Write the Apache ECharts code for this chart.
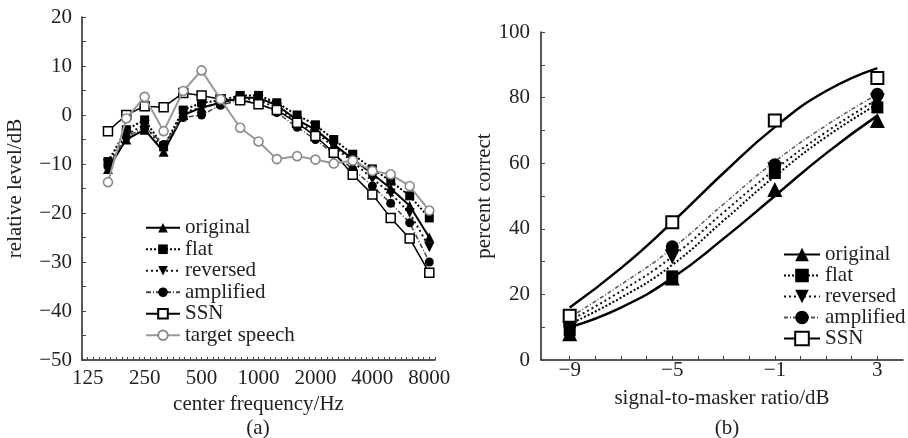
<!DOCTYPE html>
<html><head><meta charset="utf-8">
<script src="https://cdn.jsdelivr.net/npm/echarts@6/dist/echarts.min.js"></script>
<style>html,body{margin:0;padding:0;background:#fff}#c{width:908px;height:438px}</style>
</head><body><div id="c"></div>
<script>
// ---- Panel (a): relative level vs 1/3-octave centre frequency ----
const freqs = [160,200,250,315,400,500,630,800,1000,1250,1600,2000,2500,3150,4000,5000,6300,8000];
const freqTickLabels = [125,250,500,1000,2000,4000,8000];
const levelOriginal  = [-11,-5,-3,-7.5,0,1.5,2.5,3.5,3.5,2,-1,-3,-6,-9,-12,-15,-18.5,-25];
const levelFlat      = [-9.5,-3,-1,-6.5,1,2.5,3,4,4,2.5,0,-2,-5,-8,-11,-13.5,-16.5,-21];
const levelReversed  = [-10,-4,-2,-7,0.5,1.5,2.5,3.5,3,1.5,-1.5,-3.5,-6.5,-9.5,-13,-16,-20,-27];
const levelAmplified = [-10.5,-4.5,-2.5,-6,-0.5,0,2,3,2.5,0.5,-2.5,-5,-8,-11,-14.5,-18,-22,-30];
const levelSSN       = [-3.3,0,1.8,1.6,4.5,4,3.2,3,2.2,1,-1.6,-4.3,-7.7,-12.2,-16.2,-21,-25.2,-32.2];
const levelTarget    = [-13.7,-0.7,3.7,-3.3,4.9,9.1,3.2,-2.6,-5.4,-9,-8.4,-9.1,-9.9,-9.3,-11.4,-12.1,-14.5,-19.5];

// ---- Panel (b): percent correct vs signal-to-masker ratio ----
const smrPoints = [-9,-5,-1,3];
const pcOriginal  = [8,25,52,73];
const pcFlat      = [9,25.5,57,77];
const pcReversed  = [9.5,31.5,58,79];
const pcAmplified = [10.5,34.5,59.5,81];
const pcSSN       = [13.5,42,73,86];
// fitted curves
const smrCurve = [-9,-7,-5,-3,-1,1,3];
const fitOriginal  = [10,16,25,37,50,63,74.5];
const fitFlat      = [11,19,29,42.5,56,68,78];
const fitReversed  = [12,21,31.5,45,58,69.5,79.5];
const fitAmplified = [13,23,34,47.5,60.5,71.5,81];
const fitSSN       = [16,28,42,57,71,82,89];

const FONT = 'Liberation Serif';
const TXT = '#222';
const FS = 21;
const minus = s => String(s).replace('-', '\u2212');
const downTri = 'path://M0,0L10,0L5,9Z';

const toOct = f => Math.log2(f / 125);
function seriesA(name, vals, symbol, size, lineStyle, itemStyle, z) {
  return { type:'line', name, xAxisIndex:0, yAxisIndex:0, symbol, symbolSize:size,
    data: freqs.map((f,i)=>[toOct(f), vals[i]]), lineStyle, itemStyle, z, animation:false };
}
function curveB(name, vals, symbol, lineStyle, itemStyle) {
  return { type:'line', name, xAxisIndex:1, yAxisIndex:1, smooth:0.5, symbol, showSymbol:false,
    data: smrCurve.map((x,i)=>[x, vals[i]]), lineStyle, itemStyle, animation:false };
}
function ptsB(name, vals, symbol, size, itemStyle) {
  return { type:'scatter', name, xAxisIndex:1, yAxisIndex:1, symbol, symbolSize:size,
    data: smrPoints.map((x,i)=>[x, vals[i]]), itemStyle: Object.assign({opacity:1}, itemStyle), z:5, animation:false };
}

const black = {color:'#000'};
const openSq = {color:'#fff', borderColor:'#000', borderWidth:1.5};
const openCircGray = {color:'#fff', borderColor:'#8a8a8a', borderWidth:1.6};

const axisTxt = {fontFamily:FONT, fontSize:FS, color:TXT};
const axLine = {show:true, onZero:false, lineStyle:{color:'#222', width:1.5}};

const option = {
  backgroundColor:'#fff',
  grid: [
    {left:82, top:17, width:353, height:343},
    {left:541, top:32, width:362, height:328}
  ],
  xAxis: [
    { type:'value', gridIndex:0, min:-0.1, max:6.1, interval:0.1,
      axisLine:axLine,
      axisTick:{inside:true, length:3, lineStyle:{color:'#444', width:1}},
      splitLine:{show:false},
      axisLabel:Object.assign({interval:0, margin:8, formatter:v=>{
        const r=Math.round(v); return Math.abs(v-r)<1e-6 && r>=0 && r<=6 ? String(freqTickLabels[r]) : '';
      }}, axisTxt),
      name:'center frequency/Hz', nameLocation:'middle', nameGap:21,
      nameTextStyle:axisTxt },
    { type:'value', gridIndex:1, min:-10.12, max:4,
      axisLine:axLine,
      axisTick:{inside:true, length:4, lineStyle:{color:'#444', width:1}, customValues:[-9,-8,-7,-6,-5,-4,-3,-2,-1,0,1,2,3]},
      splitLine:{show:false},
      axisLabel:Object.assign({margin:0, customValues:[-9,-5,-1,3], formatter:v=>minus(v)}, axisTxt),
      name:'signal-to-masker ratio/dB', nameLocation:'middle', nameGap:28,
      nameTextStyle:axisTxt }
  ],
  yAxis: [
    { type:'value', gridIndex:0, min:-50, max:20, interval:5,
      axisLine:axLine,
      axisTick:{show:true, inside:true, length:4, lineStyle:{color:'#444'}},
      splitLine:{show:false},
      axisLabel:Object.assign({margin:10, formatter:v=> v%10===0 ? minus(v) : ''}, axisTxt),
      name:'relative level/dB', nameLocation:'middle', nameGap:56, nameRotate:90,
      nameTextStyle:axisTxt },
    { type:'value', gridIndex:1, min:0, max:100, interval:10,
      axisLine:axLine,
      axisTick:{show:true, inside:true, length:4, lineStyle:{color:'#444'}},
      splitLine:{show:false},
      axisLabel:Object.assign({margin:11, formatter:v=> v%20===0 ? String(v) : ''}, axisTxt),
      name:'percent correct', nameLocation:'middle', nameGap:46, nameRotate:90,
      nameTextStyle:axisTxt }
  ],
  legend: [
    { orient:'vertical', left:140, top:212, itemWidth:34, itemHeight:12, itemGap:0,
      textStyle:{fontFamily:FONT, fontSize:FS, color:TXT, lineHeight:21.5},
      data:['original','flat','reversed','amplified','SSN','target speech'] },
    { orient:'vertical', left:778, top:239, itemWidth:36, itemHeight:17, itemGap:0,
      textStyle:{fontFamily:FONT, fontSize:FS, color:TXT, lineHeight:21},
      data:['original ','flat ','reversed ','amplified ','SSN '] }
  ],
  graphic: [
    {type:'text', style:{text:'(a)', font:FS+'px '+FONT, fill:TXT, x:258, y:428, textAlign:'center', textVerticalAlign:'middle'}},
    {type:'text', style:{text:'(b)', font:FS+'px '+FONT, fill:TXT, x:727, y:428, textAlign:'center', textVerticalAlign:'middle'}}
  ],
  series: [
    seriesA('original', levelOriginal, 'triangle', 10, {color:'#000', width:2}, black, 3),
    seriesA('flat', levelFlat, 'rect', 9, {color:'#000', width:2, type:[2,2]}, black, 3),
    seriesA('reversed', levelReversed, downTri, 10, {color:'#111', width:2, type:[2,3]}, black, 3),
    seriesA('amplified', levelAmplified, 'circle', 9, {color:'#444', width:1.5, type:[5,2,1,2]}, black, 3),
    seriesA('SSN', levelSSN, 'rect', 9, {color:'#000', width:1.5}, openSq, 4),
    seriesA('target speech', levelTarget, 'circle', 9, {color:'#999', width:2}, openCircGray, 5),

    curveB('original ', fitOriginal, 'triangle', {color:'#000', width:2.5}, black),
    curveB('flat ', fitFlat, 'rect', {color:'#000', width:2, type:[2,2]}, black),
    curveB('reversed ', fitReversed, downTri, {color:'#111', width:2, type:[2,3]}, black),
    curveB('amplified ', fitAmplified, 'circle', {color:'#555', width:1.5, type:[4,2,1,2]}, black),
    curveB('SSN ', fitSSN, 'rect', {color:'#000', width:2.5}, openSq),
    ptsB('pts original', pcOriginal, 'triangle', 15, black),
    ptsB('pts flat', pcFlat, 'rect', 12, black),
    ptsB('pts reversed', pcReversed, downTri, 15, black),
    ptsB('pts amplified', pcAmplified, 'circle', 13, black),
    ptsB('pts SSN', pcSSN, 'rect', 12, {color:'#fff', borderColor:'#000', borderWidth:2})
  ]
};
const chart = echarts.init(document.getElementById('c'), null, {renderer:'canvas'});
chart.setOption(option);
</script></body></html>
